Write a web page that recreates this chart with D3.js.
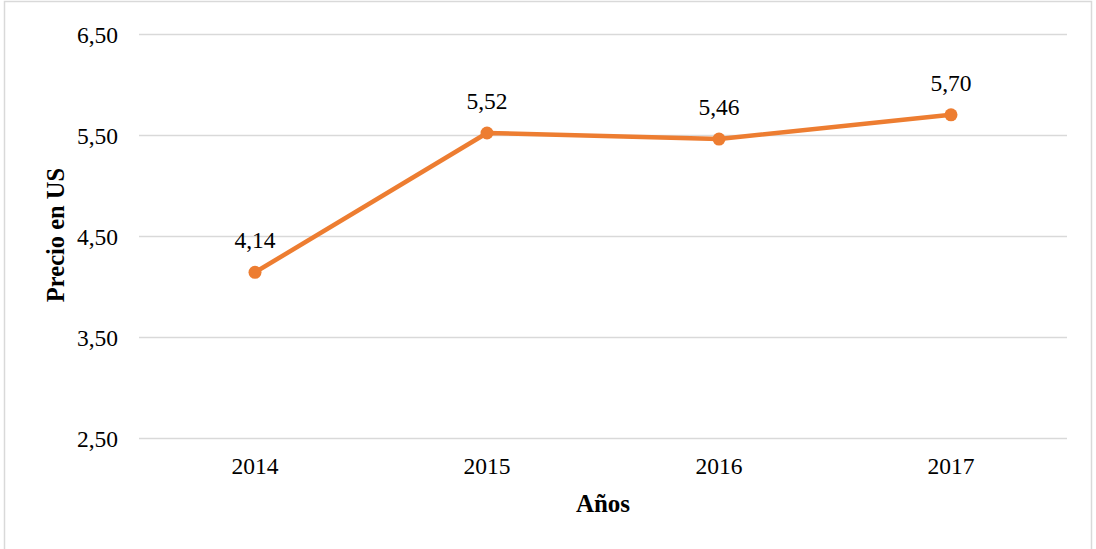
<!DOCTYPE html>
<html><head><meta charset="utf-8">
<script src="https://cdn.jsdelivr.net/npm/d3@7"></script>
<style>body{margin:0;background:#fff;}svg{display:block;}</style>
</head><body>
<svg id="c" width="1096" height="549"></svg>
<script>
const years = ["2014","2015","2016","2017"];
const prices = [4.14, 5.52, 5.46, 5.70];
const yTicks = [2.5, 3.5, 4.5, 5.5, 6.5];

const svg = d3.select("#c");
const m = {l:139, r:1067, t:34, b:438};
const font = "'Liberation Serif', 'Times New Roman', serif";
const fmt = v => d3.format(".2f")(v).replace(".", ",");

svg.append("rect").attr("x",4.5).attr("y",1.5).attr("width",1087).attr("height",560)
  .attr("fill","#fff").attr("stroke","#d9d9d9").attr("stroke-width",1.5);

const x = d3.scaleBand().domain(years).range([m.l, m.r]);
const y = d3.scaleLinear().domain([2.5, 6.5]).range([m.b, m.t]);

const yAxis = svg.append("g").attr("transform",`translate(${m.l},0)`)
  .call(d3.axisLeft(y).tickValues(yTicks).tickSize(-(m.r-m.l)).tickPadding(21).tickFormat(fmt));
yAxis.select(".domain").remove();
yAxis.selectAll("line").attr("stroke","#d9d9d9").attr("stroke-width",1.5);
yAxis.selectAll("text").attr("font-family",font).attr("font-size",23.5).attr("fill","#000").attr("dy","0.35em");

const xAxis = svg.append("g").attr("transform",`translate(0,${m.b})`)
  .call(d3.axisBottom(x).tickSize(0));
xAxis.select(".domain").remove();
xAxis.selectAll("text").attr("font-family",font).attr("font-size",23.5).attr("fill","#000")
  .attr("dy",null).attr("y",36);

const pts = years.map((yr,i)=>({yr, v:prices[i]}));
const cx = d => x(d.yr) + x.bandwidth()/2;

svg.append("path").datum(pts)
  .attr("d", d3.line().x(cx).y(d=>y(d.v)))
  .attr("fill","none").attr("stroke","#ED7D31").attr("stroke-width",4.5).attr("stroke-linejoin","round");

svg.selectAll("circle.pt").data(pts).join("circle")
  .attr("cx",cx).attr("cy",d=>y(d.v)).attr("r",6.5).attr("fill","#ED7D31");

svg.selectAll("text.lbl").data(pts).join("text")
  .attr("x",cx).attr("y",d=>y(d.v)-24)
  .attr("text-anchor","middle").attr("font-family",font).attr("font-size",23.5)
  .text(d=>fmt(d.v));

svg.append("text").attr("x",(m.l+m.r)/2).attr("y",512).attr("text-anchor","middle")
  .attr("font-family",font).attr("font-size",25).attr("font-weight","bold").text("Años");

svg.append("text").attr("transform",`translate(64,${(m.t+m.b)/2-1}) rotate(-90)`)
  .attr("text-anchor","middle").attr("font-family",font).attr("font-size",24.5).attr("font-weight","bold")
  .text("Precio en US");
</script>
</body></html>
